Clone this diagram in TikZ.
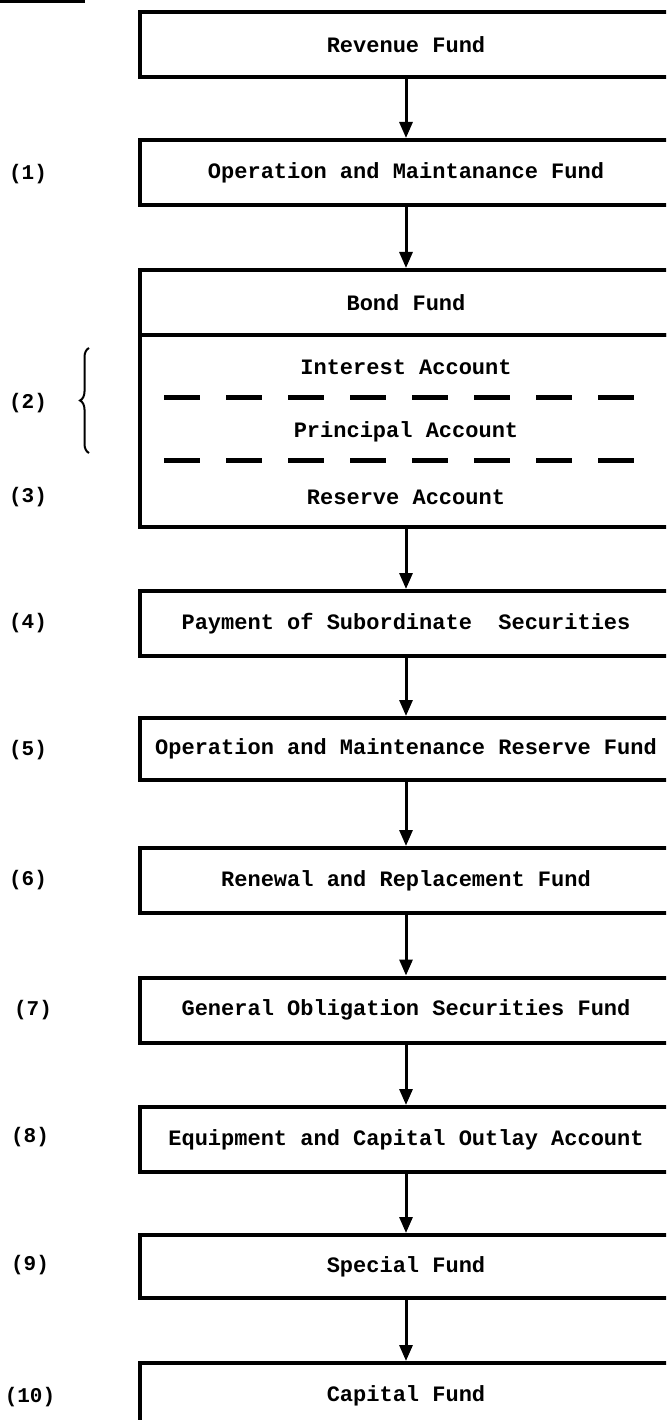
\documentclass[tikz,border=0pt]{standalone}
\usepackage{fontspec}
\setmonofont{Liberation Mono}
\usetikzlibrary{arrows.meta,positioning,decorations.pathreplacing}

\begin{document}
\begin{tikzpicture}[x=1pt,y=1pt,
  every node/.style={font=\ttfamily\bfseries\fontsize{22}{26}\selectfont},
  fund/.style={draw,line width=4pt,minimum width=532pt,minimum height=65pt,inner sep=0pt,outer sep=0pt},
  flow/.style={-{Triangle[width=13pt,length=16pt]},line width=3pt,shorten >=2pt,shorten <=2pt},
  sep/.style={line width=5pt,dash pattern=on 36pt off 26pt},
  num/.style={font=\ttfamily\bfseries\fontsize{21}{25}\selectfont}]
  \useasboundingbox (0,0) rectangle (666,-1420);
  \clip (0,0) rectangle (666,-1420);
  \fill[white] (0,0) rectangle (666,-1420);
  \draw[line width=4pt] (0,-1) -- (85,-1);
  % funds in order of payment
  \node[fund] (rev) at (406,-44.5) {Revenue Fund};
  \node[fund] (om) at (406,-172.5) {Operation and Maintanance Fund};
  \node[fund] (bond) at (406,-302.5) {Bond Fund};
  \node[fund,minimum height=192pt,anchor=north] (acc) at (bond.south) {};
  \node (int) at (406,-367) {Interest Account};
  \node (prin) at (406,-432) {Principal Account};
  \node (res) at (406,-497) {Reserve Account};
  \draw[sep] (164,-397) -- (635,-397);
  \draw[sep] (164,-460) -- (635,-460);
  \node[fund] (pay) at (406,-623.5) {Payment of Subordinate\ \ Securities};
  \node[fund,minimum height=62pt] (omr) at (406,-749) {Operation and Maintenance Reserve Fund};
  \node[fund] (rr) at (406,-880.5) {Renewal and Replacement Fund};
  \node[fund] (go) at (406,-1010) {General Obligation Securities Fund};
  \node[fund] (eq) at (406,-1139.5) {Equipment and Capital Outlay Account};
  \node[fund,minimum height=63pt] (sp) at (406,-1266.5) {Special Fund};
  \node[fund] (cap) at (406,-1395.5) {Capital Fund};
  \foreach \a/\b in {rev/om,om/bond,acc/pay,pay/omr,omr/rr,rr/go,go/eq,eq/sp,sp/cap}
    {\draw[flow] (\a) -- (\b);}
  % priority numbers
  \node[num] (n1) at (28,-174) {(1)};
  \node[num] (n2) at (28,-403) {(2)};
  \node[num] (n3) at (28,-497) {(3)};
  \node[num] (n4) at (28,-623) {(4)};
  \node[num] (n5) at (28,-750) {(5)};
  \node[num] (n6) at (28,-880) {(6)};
  \node[num] (n7) at (33,-1010) {(7)};
  \node[num] (n8) at (30,-1137) {(8)};
  \node[num] (n9) at (30,-1265) {(9)};
  \node[num] (n10) at (30,-1397) {(10)};
  \draw[line width=2pt,decorate,decoration={brace,amplitude=9pt}] (89,-453) -- (89,-348);
\end{tikzpicture}
\end{document}
